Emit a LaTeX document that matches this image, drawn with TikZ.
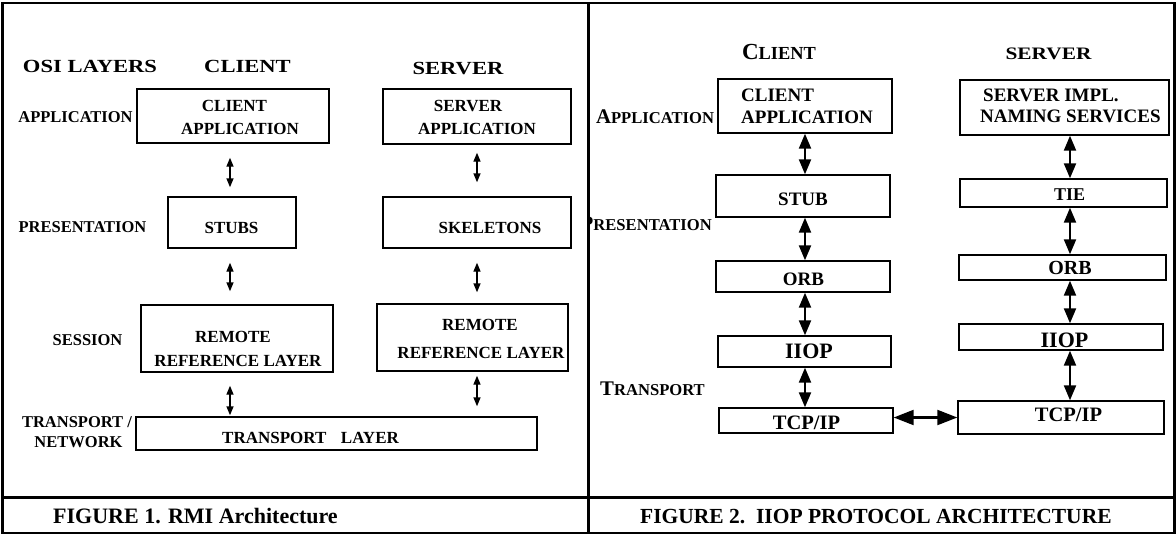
\documentclass[tikz,border=0pt]{standalone}
\usepackage{graphicx}
\usepackage{fontspec}
\setmainfont{Liberation Serif}
\usetikzlibrary{arrows.meta}
% bold text at a given size (pt)
\newcommand\fsz[1]{\fontsize{#1}{#1}\selectfont\bfseries}
% hand-made small caps: first letter size, rest size, first letter, rest
\newcommand\capsc[4]{{\fsz{#1}#3}{\fsz{#2}#4}}
% horizontally widened heading text
\newcommand\widehead[2]{\scalebox{1.22}[1]{\fsz{#1}#2}}

\begin{document}
\begin{tikzpicture}[x=1pt,y=-1pt,
  box/.style={draw, line width=1.4pt, inner sep=0pt, rectangle},
  txt/.style={inner sep=0pt, anchor=base},
  lt/.style={txt, font=\fsz{17}},
  ll/.style={txt, font=\fsz{16.5}},
  la/.style={line width=1.4pt, arrows={Triangle[width=7pt,length=9pt]-Triangle[width=7pt,length=9pt]}},
  ra/.style={line width=2.2pt, arrows={Triangle[width=12pt,length=15pt]-Triangle[width=12pt,length=15pt]}},
  ha/.style={line width=2.2pt, arrows={Triangle[width=15pt,length=20pt]-Triangle[width=15pt,length=20pt]}},
  frame/.style={line width=2.2pt}]
\useasboundingbox (0,0) rectangle (1176,535);

% ---------- frame ----------
\coordinate (tl) at (2.5,3);
\coordinate (br) at (1174.5,533);
\coordinate (midtop) at (588.5,3);
\coordinate (midbot) at (588.5,533);
\coordinate (capl) at (2.5,497.5);
\coordinate (capr) at (1174.5,497.5);
\draw[frame] (tl) rectangle (br);
\draw[frame] (midtop) -- (midbot);
\draw[frame] (capl) -- (capr);

% ---------- Figure 1: RMI ----------
\node[txt] (hosi) at (90,73) {\widehead{18.5}{OSI LAYERS}};
\node[txt] (hcli) at (247.5,73) {\widehead{18.5}{CLIENT}};
\node[txt] (hsrv) at (458,75) {\widehead{18.5}{SERVER}};

\node[ll] (lapp) at (75.5,122) {APPLICATION};
\node[ll] (lpres) at (82.5,232) {PRESENTATION};
\node[ll] (lsess) at (87.5,345) {SESSION};
\node[ll] (ltr1) at (77,427) {TRANSPORT /};
\node[ll] (ltr2) at (78.5,447) {NETWORK};

\node[box, minimum width=192pt, minimum height=54pt] (capp) at (233,116) {};
\node[lt] (capp1) at (234.5,111) {CLIENT};
\node[lt] (capp2) at (240,134) {APPLICATION};

\node[box, minimum width=188pt, minimum height=55pt] (sapp) at (477,116.5) {};
\node[lt] (sapp1) at (468,111) {SERVER};
\node[lt] (sapp2) at (477,134) {APPLICATION};

\node[box, minimum width=128pt, minimum height=51pt] (cstubs) at (232,222.5) {};
\node[lt] (cstubs1) at (231.5,233) {STUBS};

\node[box, minimum width=188pt, minimum height=51pt] (sskel) at (477,222.5) {};
\node[lt] (sskel1) at (490,233) {SKELETONS};

\node[box, minimum width=192pt, minimum height=67pt] (crrl) at (237,338.5) {};
\node[lt] (crrl1) at (233,342) {REMOTE};
\node[lt] (crrl2) at (238,366) {REFERENCE LAYER};

\node[box, minimum width=191pt, minimum height=67pt] (srrl) at (472.5,337.5) {};
\node[lt] (srrl1) at (480,330) {REMOTE};
\node[lt] (srrl2) at (481,358) {REFERENCE LAYER};

\node[box, minimum width=401pt, minimum height=33pt] (trans) at (336.5,433.5) {};
\node[lt, anchor=base west] (trans1) at (222,443) {TRANSPORT\hspace{14.5pt}LAYER};

\coordinate (cxL) at (230,0);
\coordinate (sxL) at (477,0);
\draw[la, shorten <=14pt, shorten >=9pt] (capp.south -| cxL) -- (cstubs.north -| cxL);
\draw[la, shorten <=8pt, shorten >=14pt] (sapp.south -| sxL) -- (sskel.north -| sxL);
\draw[la, shorten <=14pt, shorten >=13pt] (cstubs.south -| cxL) -- (crrl.north -| cxL);
\draw[la, shorten <=14pt, shorten >=11pt] (sskel.south -| sxL) -- (srrl.north -| sxL);
\draw[la, shorten <=13pt, shorten >=1pt] (crrl.south -| cxL) -- (trans.north -| cxL);
\draw[la, shorten <=4pt, shorten >=10pt] (srrl.south -| sxL) -- (trans.north -| sxL);

\node[txt, anchor=base west, font=\fsz{22}] (cap1) at (53,523) {FIGURE 1. RMI Architecture};

% ---------- Figure 2: IIOP ----------
\node[txt] (rhc) at (779,60) {\capsc{23}{18.4}{C}{LIENT}};
\node[txt] (rhs) at (1048.5,60) {\widehead{17.5}{SERVER}};

\begin{scope}
\clip (589.5,0) rectangle (1176,535);
\node[txt] (rlapp) at (655,124) {\capsc{20.8}{16.6}{A}{PPLICATION}};
\node[txt, anchor=base east] (rlpres) at (712,230) {\capsc{20.8}{16.6}{P}{RESENTATION}};
\node[txt] (rltr) at (652.5,395) {\capsc{20.8}{16.6}{T}{RANSPORT}};
\end{scope}

\node[box, minimum width=174pt, minimum height=54pt] (rcapp) at (805,106) {};
\node[txt, anchor=base west, font=\fsz{19}] (rcapp1) at (741,102) {CLIENT};
\node[txt, anchor=base west, font=\fsz{19}] (rcapp2) at (741,124) {APPLICATION};

\node[box, minimum width=209pt, minimum height=55pt] (rsapp) at (1064.5,107.5) {};
\node[txt, anchor=base west, font=\fsz{19}] (rsapp1) at (983,102) {SERVER IMPL.};
\node[txt, anchor=base west, font=\fsz{19}] (rsapp2) at (980,122) {NAMING SERVICES};

\node[box, minimum width=174pt, minimum height=42pt] (rstub) at (803,196) {};
\node[txt, font=\fsz{19}] (rstub1) at (803,205) {STUB};

\node[box, minimum width=207pt, minimum height=28pt] (rtie) at (1063.5,193) {};
\node[txt, font=\fsz{18}] (rtie1) at (1069.5,200) {TIE};

\node[box, minimum width=174pt, minimum height=31pt] (rcorb) at (803,276.5) {};
\node[txt, font=\fsz{19}] (rcorb1) at (803.5,285) {ORB};

\node[box, minimum width=207pt, minimum height=25pt] (rsorb) at (1062.5,267.5) {};
\node[txt, font=\fsz{20}] (rsorb1) at (1070,274) {ORB};

\node[box, minimum width=173pt, minimum height=31pt] (rciiop) at (804.5,351.5) {};
\node[txt, font=\fsz{22}] (rciiop1) at (809,358) {IIOP};

\node[box, minimum width=204pt, minimum height=26pt] (rsiiop) at (1061,337) {};
\node[txt, font=\fsz{22}] (rsiiop1) at (1064.5,347) {IIOP};

\node[box, minimum width=174pt, minimum height=25pt] (rctcp) at (806,420.5) {};
\node[txt, font=\fsz{20.5}] (rctcp1) at (806.5,429) {TCP/IP};

\node[box, minimum width=206pt, minimum height=33pt] (rstcp) at (1061,417.5) {};
\node[txt, font=\fsz{20.5}] (rstcp1) at (1068.5,421) {TCP/IP};

\coordinate (cxR) at (805,0);
\coordinate (sxR) at (1070,0);
\draw[ra] (rcapp.south -| cxR) -- (rstub.north -| cxR);
\draw[ra] (rstub.south -| cxR) -- (rcorb.north -| cxR);
\draw[ra] (rcorb.south -| cxR) -- (rciiop.north -| cxR);
\draw[ra] (rciiop.south -| cxR) -- (rctcp.north -| cxR);
\draw[ra] (rsapp.south -| sxR) -- (rtie.north -| sxR);
\draw[ra] (rtie.south -| sxR) -- (rsorb.north -| sxR);
\draw[ra] (rsorb.south -| sxR) -- (rsiiop.north -| sxR);
\draw[ra] (rsiiop.south -| sxR) -- (rstcp.north -| sxR);
\draw[ha] (rctcp.east |- rstcp.west) -- (rstcp.west);

\node[txt, anchor=base west, font=\fsz{21.5}] (cap2) at (640,523) {FIGURE 2.\ \ IIOP PROTOCOL ARCHITECTURE};
\end{tikzpicture}
\end{document}
